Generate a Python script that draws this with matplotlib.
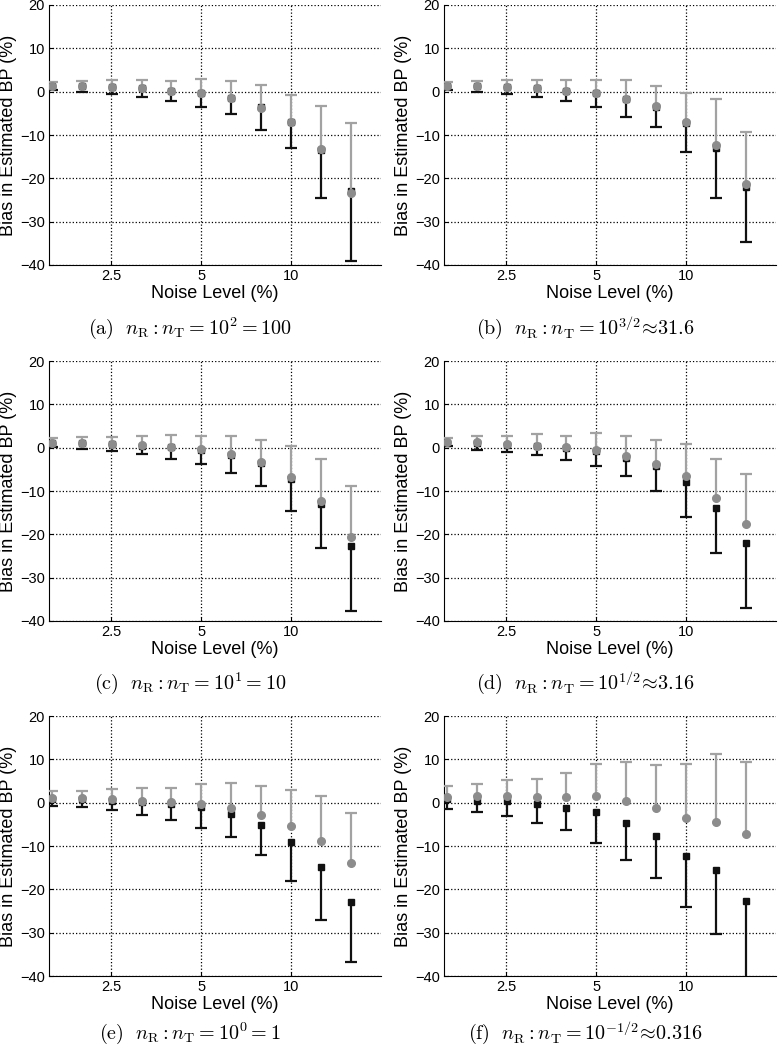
import matplotlib
matplotlib.use("Agg")
from matplotlib import pyplot as plt
import numpy as np

plt.rcParams['font.family'] = ['Liberation Sans', 'DejaVu Sans']
plt.rcParams['mathtext.fontset'] = 'cm'

# noise levels (%) on the x axis
noise = [1.585, 1.995, 2.512, 3.162, 3.981, 5.012, 6.310, 7.943, 10.0, 12.59, 15.85]

# black squares: mean bias and end of the lower error bar, one row per panel (a)-(f)
black_mean = [
    [1.3, 1.2, 1.0, 0.8, 0.1, -0.3, -1.5, -3.6, -7.0, -13.5, -23.0],
    [1.3, 1.2, 1.0, 0.8, 0.1, -0.4, -1.8, -3.5, -7.2, -13.0, -22.0],
    [1.0, 1.0, 0.8, 0.5, 0.1, -0.6, -1.8, -3.6, -7.2, -12.9, -22.6],
    [1.1, 1.0, 0.7, 0.4, -0.1, -0.8, -2.3, -4.3, -7.9, -13.9, -21.9],
    [0.8, 0.9, 0.5, 0.1, -0.3, -1.0, -2.6, -5.2, -9.0, -14.8, -22.9],
    [0.8, 0.5, 0.4, -0.4, -1.2, -2.1, -4.8, -7.8, -12.2, -15.6, -22.6],
]
black_lower = [
    [0.5, -0.1, -0.6, -1.2, -2.1, -3.5, -5.2, -8.9, -13.1, -24.6, -39.0],
    [0.4, -0.1, -0.6, -1.2, -2.2, -3.5, -5.8, -8.1, -14.0, -24.6, -34.7],
    [0.2, -0.3, -0.7, -1.5, -2.5, -3.8, -5.8, -8.8, -14.6, -23.1, -37.6],
    [0.3, -0.5, -1.1, -1.8, -2.8, -4.3, -6.5, -10.1, -15.9, -24.3, -37.1],
    [-0.7, -1.1, -1.7, -2.8, -3.9, -5.9, -8.0, -12.0, -18.0, -27.1, -36.8],
    [-1.4, -2.1, -3.1, -4.6, -6.3, -9.2, -13.2, -17.3, -24.0, -30.2, -41.0],
]

# grey circles: mean bias and end of the upper error bar
grey_mean = [
    [1.4, 1.2, 1.1, 0.8, 0.2, -0.2, -1.4, -3.7, -6.9, -13.2, -23.3],
    [1.4, 1.2, 1.1, 0.8, 0.2, -0.4, -1.6, -3.3, -7.1, -12.4, -21.4],
    [1.1, 1.0, 0.9, 0.6, 0.2, -0.4, -1.5, -3.3, -6.7, -12.4, -20.7],
    [1.2, 1.2, 0.8, 0.5, 0.2, -0.5, -1.9, -3.8, -6.5, -11.5, -17.6],
    [1.0, 1.1, 0.8, 0.5, 0.15, -0.3, -1.2, -2.9, -5.4, -8.9, -13.9],
    [1.4, 1.5, 1.6, 1.2, 1.3, 1.5, 0.4, -1.3, -3.5, -4.4, -7.3],
]
grey_upper = [
    [2.2, 2.5, 2.6, 2.8, 2.5, 2.9, 2.5, 1.6, -0.8, -3.3, -7.2],
    [2.2, 2.5, 2.6, 2.8, 2.8, 2.8, 2.6, 1.4, -0.2, -1.7, -9.2],
    [2.2, 2.4, 2.5, 2.8, 3.0, 2.8, 2.6, 1.8, 0.5, -2.5, -8.8],
    [2.3, 2.7, 2.7, 3.1, 2.8, 3.3, 2.7, 1.8, 0.8, -2.5, -6.0],
    [2.7, 2.8, 3.1, 3.5, 3.5, 4.3, 4.5, 3.8, 2.9, 1.6, -2.3],
    [3.8, 4.4, 5.2, 5.5, 6.9, 8.9, 9.3, 8.8, 8.9, 11.3, 9.5],
]

captions = [
    r"$\mathrm{(a)}\ \ n_\mathrm{R} : n_\mathrm{T} = 10^{2} = 100$",
    r"$\mathrm{(b)}\ \ n_\mathrm{R} : n_\mathrm{T} = 10^{3/2}\!\approx\!31.6$",
    r"$\mathrm{(c)}\ \ n_\mathrm{R} : n_\mathrm{T} = 10^{1} = 10$",
    r"$\mathrm{(d)}\ \ n_\mathrm{R} : n_\mathrm{T} = 10^{1/2}\!\approx\!3.16$",
    r"$\mathrm{(e)}\ \ n_\mathrm{R} : n_\mathrm{T} = 10^{0} = 1$",
    r"$\mathrm{(f)}\ \ n_\mathrm{R} : n_\mathrm{T} = 10^{-1/2}\!\approx\!0.316$",
]

W, H = 778, 1050
fig = plt.figure(figsize=(W / 100, H / 100), dpi=100)

col_left = [49, 444]
col_center = [190, 585]
row_top = [5, 361, 716]
cap_gap = [63, 62, 57]
ax_w, ax_h = 332, 260

for i in range(6):
    r, c = divmod(i, 2)
    ax = fig.add_axes([col_left[c] / W, 1 - (row_top[r] + ax_h) / H, ax_w / W, ax_h / H])

    bm = np.array(black_mean[i])
    bl = np.array(black_lower[i])
    gm = np.array(grey_mean[i])
    gu = np.array(grey_upper[i])
    zeros = np.zeros_like(bm)

    # black: only the lower half of the error bar
    _, caps, _ = ax.errorbar(noise, bm, yerr=[bm - bl, zeros], fmt='s', color='#111111',
                             markersize=4.5, elinewidth=1.6, capsize=4.2, capthick=1.6, zorder=3)
    caps[1].set_visible(False)
    # grey: only the upper half
    _, caps, _ = ax.errorbar(noise, gm, yerr=[zeros, gu - gm], fmt='o', color='#a2a2a2',
                             markerfacecolor='#8c8c8c', markeredgecolor='#8c8c8c',
                             markersize=5.5, elinewidth=1.6, capsize=4.2, capthick=1.6, zorder=4)
    caps[0].set_visible(False)

    ax.set_xscale('log')
    ax.set_xlim(1.55, 20)
    ax.set_ylim(-40, 20)
    ax.set_xticks([2.5, 5, 10])
    ax.set_xticklabels(['2.5', '5', '10'])
    ax.xaxis.set_minor_locator(matplotlib.ticker.NullLocator())
    ax.set_yticks([-40, -30, -20, -10, 0, 10, 20])
    ax.tick_params(direction='in', length=3, labelsize=10.5, pad=3)
    ax.grid(True, color='black', linestyle=':', linewidth=0.9)
    ax.set_axisbelow(True)
    for s in ['top', 'right']:
        ax.spines[s].set_visible(False)

    ax.set_xlabel('Noise Level (%)', fontsize=13, labelpad=1)
    ax.set_ylabel('Bias in Estimated BP (%)', fontsize=13)
    ax.yaxis.set_label_coords(-32 / ax_w, 0.5)

    fig.text(col_center[c] / W, 1 - (row_top[r] + ax_h + cap_gap[r]) / H, captions[i],
             ha='center', va='center', fontsize=14.5)

fig.savefig('out.png', dpi=100)
